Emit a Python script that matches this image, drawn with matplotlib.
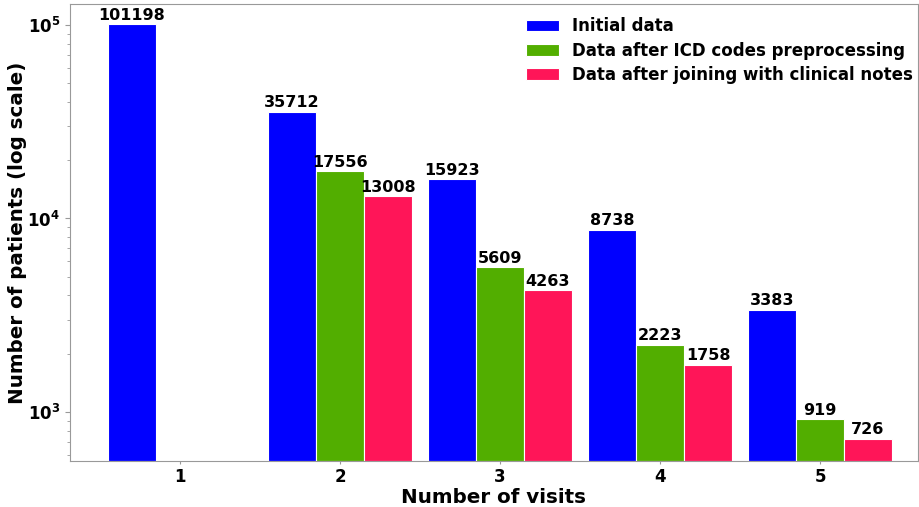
import matplotlib
matplotlib.use("Agg")
import matplotlib.pyplot as plt
import numpy as np

visits = [1, 2, 3, 4, 5]
initial = [101198, 35712, 15923, 8738, 3383]
icd_visits = [2, 3, 4, 5]
icd = [17556, 5609, 2223, 919]
notes_visits = [2, 3, 4, 5]
notes = [13008, 4263, 1758, 726]
series_names = ["Initial data", "Data after ICD codes preprocessing",
                "Data after joining with clinical notes"]
colors = ["#0000FF", "#52AE00", "#FF1558"]

plt.rcParams['font.family'] = ['DejaVu Sans']
plt.rcParams['font.weight'] = 'bold'

fig = plt.figure(figsize=(9.2, 5.07), dpi=100)
ax = fig.add_axes([70/920, 46/507, 848/920, 457/507])

w = 0.3
bottom = 558
groups = [(visits, initial, -w), (icd_visits, icd, 0.0), (notes_visits, notes, w)]
for (xs, vals, off), name, c in zip(groups, series_names, colors):
    xpos = np.array(xs) + off
    heights = np.array(vals) - bottom
    ax.bar(xpos, heights, width=w, bottom=bottom, color=c,
           edgecolor='white', linewidth=0.8, label=name)
    for x, v in zip(xpos, vals):
        ax.annotate(str(v), (x, v), xytext=(0, 1), textcoords='offset points',
                    ha='center', va='bottom', fontsize=11.5, fontweight='bold')

ax.set_yscale('log')
ax.set_ylim(bottom, 128400)
ax.set_xlim(0.3125, 5.6125)
ax.set_xticks(visits)
ax.set_xticklabels([str(v) for v in visits])
for lab in ax.get_xticklabels() + ax.get_yticklabels():
    lab.set_fontweight('bold')
ax.tick_params(axis='both', labelsize=12, color='#999999')
ax.tick_params(axis='x', length=2.5, pad=2.5)
ax.tick_params(axis='y', which='minor', color='#999999')
for sp in ax.spines.values():
    sp.set_color('#999999')

ax.set_xlabel("Number of visits", fontsize=14.3, fontweight='bold', labelpad=1.5)
ax.set_ylabel("Number of patients (log scale)", fontsize=14.3, fontweight='bold')
ax.yaxis.set_label_coords(-0.0507, 0.5)

ax.legend(loc='upper right', bbox_to_anchor=(1.012, 1.004), frameon=False,
          labelspacing=0.38, prop={'weight': 'bold', 'size': 12})

fig.savefig("out.png", dpi=100)
